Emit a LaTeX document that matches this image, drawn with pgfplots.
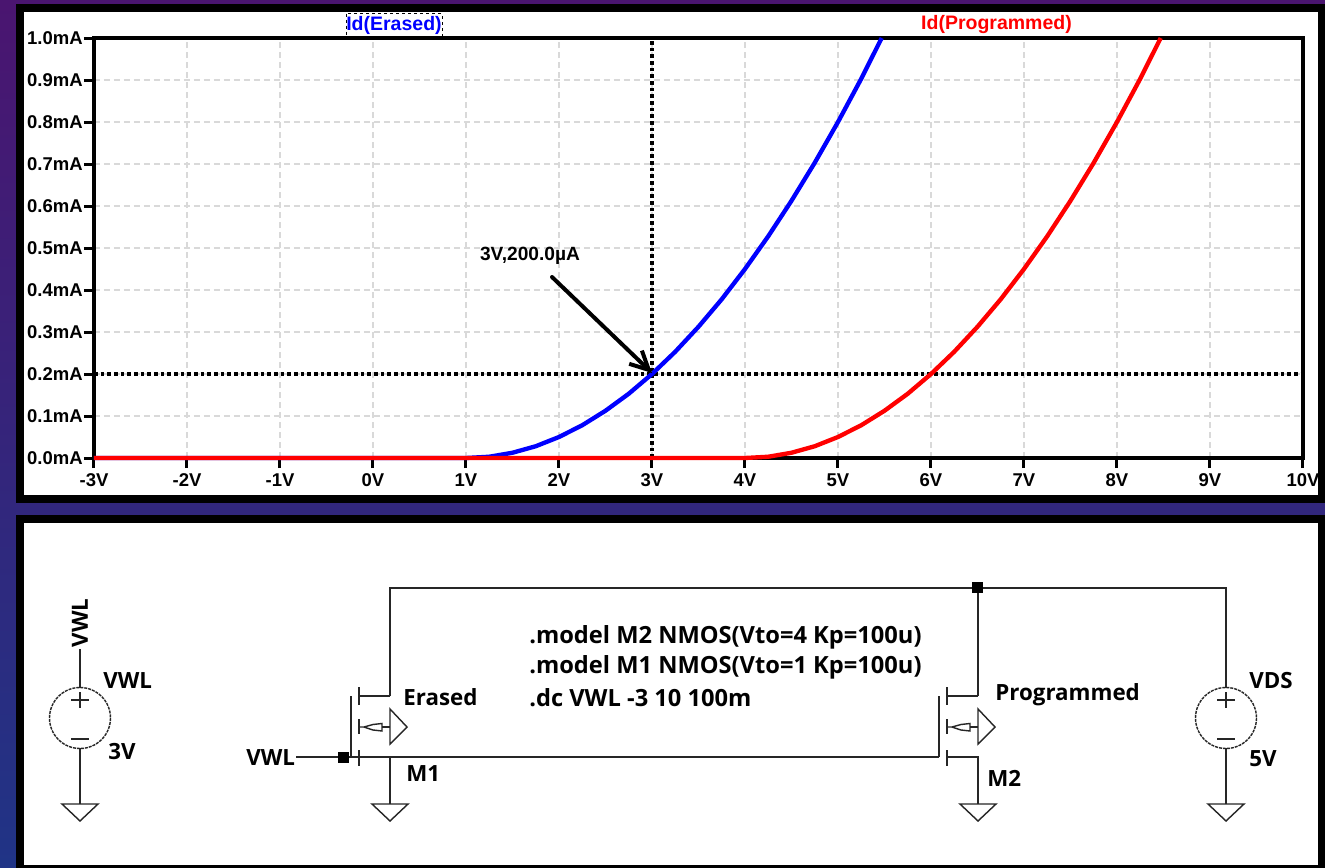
\documentclass[border=0pt]{standalone}
\usepackage{fontspec}
\setmainfont{Liberation Sans}
\newfontfamily\schem[BoldFont={Open Sans Bold}]{Open Sans}
\usepackage{pgfplots}
\pgfplotsset{compat=1.18}
\usetikzlibrary{arrows.meta}
\newcommand{\ax}[1]{\fontsize{11.1pt}{12pt}\selectfont\bfseries #1}
\newcommand{\sch}{\schem\fontsize{13.4pt}{15pt}\selectfont\bfseries}
\newcommand{\schd}{\schem\fontsize{14.2pt}{16pt}\selectfont\bfseries}
\definecolor{bgtop}{RGB}{74,21,112}
\definecolor{bgbot}{RGB}{32,52,134}
\begin{document}
\begin{tikzpicture}
\begin{scope}[x=0.6pt,y=-0.6pt]
\path[use as bounding box] (0,0) rectangle (1325,868);
\shade[top color=bgtop,bottom color=bgbot,shading angle=0] (0,0) rectangle (1325,868);
\fill[black] (16,4) rectangle (1325,503);
\fill[white] (24,12) rectangle (1318,495);
\fill[black] (16,515) rectangle (1325,868);
\fill[white] (24,523) rectangle (1318,865);
\end{scope}
\begin{axis}[
  at={(56.4pt,-274.8pt)},anchor=south west,
  scale only axis,width=725.4pt,height=252pt,
  xmin=-3,xmax=10,ymin=0,ymax=1,
  clip=false,
  xtick={-3,-2,-1,0,1,2,3,4,5,6,7,8,9,10},
  xticklabels={-3V,-2V,-1V,0V,1V,2V,3V,4V,5V,6V,7V,8V,9V,10V},
  ytick={0,0.1,0.2,0.3,0.4,0.5,0.6,0.7,0.8,0.9,1},
  yticklabels={0.0mA,0.1mA,0.2mA,0.3mA,0.4mA,0.5mA,0.6mA,0.7mA,0.8mA,0.9mA,1.0mA},
  tick pos=left,tick align=outside,
  major tick length=6pt,
  every tick/.style={black,line width=1.8pt},
  axis line style={black,line width=2.4pt},
  grid=major,
  grid style={line width=0.7pt,gray!30,dash pattern=on 3.6pt off 2.4pt},
  xticklabel style={font=\ax{},inner sep=0pt,yshift=-3pt},
  yticklabel style={font=\ax{},inner sep=0pt,xshift=-0.6pt},
]
% cursors
\addplot[black,line width=1.9pt,dash pattern=on 2.2pt off 1.8pt] coordinates {(-3,0.2) (10,0.2)};
\addplot[black,line width=1.9pt,dash pattern=on 2.2pt off 1.8pt] coordinates {(3,0) (3,1)};
% Id(Erased)
\addplot[blue,line width=2.6pt,line join=round] coordinates {
(-3,0) (1,0) (1.25,0.003) (1.5,0.0125) (1.75,0.028) (2,0.05) (2.25,0.078) (2.5,0.1125)
(2.75,0.153) (3,0.2) (3.25,0.253) (3.5,0.3125) (3.75,0.378) (4,0.45) (4.25,0.528)
(4.5,0.6125) (4.75,0.703) (5,0.8) (5.25,0.903) (5.47,1)};
% Id(Programmed)
\addplot[red,line width=2.6pt,line join=round] coordinates {
(-3,0) (4,0) (4.25,0.003) (4.5,0.0125) (4.75,0.028) (5,0.05) (5.25,0.078) (5.5,0.1125)
(5.75,0.153) (6,0.2) (6.25,0.253) (6.5,0.3125) (6.75,0.378) (7,0.45) (7.25,0.528)
(7.5,0.6125) (7.75,0.703) (8,0.8) (8.25,0.903) (8.47,1)};
\end{axis}
\begin{scope}[x=0.6pt,y=-0.6pt]
% legend
\node[anchor=center,inner sep=0pt,text=blue,font=\fontsize{11.7pt}{13pt}\selectfont\bfseries] at (394,25) {Id(Erased)};
\draw[black,line width=0.6pt,dash pattern=on 1.8pt off 1.8pt] (346,13.5) rectangle (442,37);
\node[anchor=center,inner sep=0pt,text=red,font=\fontsize{11.7pt}{13pt}\selectfont\bfseries] at (996.5,25) {Id(Programmed)};
% annotation
\node[anchor=center,inner sep=0pt,font=\fontsize{11.5pt}{13pt}\selectfont\bfseries] at (530,256) {3V,200.0µA};
\draw[black,line width=2.4pt,line cap=round,-{Straight Barb[length=11pt,width=11pt,line width=2.4pt]}] (552,277) -- (652,373);
% schematic wires
\begin{scope}[line width=0.85pt,black!85]
\draw (390,696) -- (390,588) -- (1226,588) -- (1226,688);
\draw (296,757) -- (939,757);
\draw (978,588) -- (978,696);
% M1, M2
\foreach \dx in {0,588}{
  \begin{scope}[xshift={\dx*0.6pt}]
  \draw (351,696) -- (351,757);
  \draw (359,687) -- (359,705);
  \draw (359,719) -- (359,734);
  \draw (359,750) -- (359,766);
  \draw (390,696) -- (359,696);
  \draw (359,727) -- (364,727) -- (373,724.5) -- (382,723.5) -- (382,731) -- (373,730) -- (364,727);
  \draw (382,727) -- (390,727);
  \draw (390,709) -- (407,727) -- (390,744) -- cycle;
  \draw (359,757) -- (390,757) -- (390,804);
  \draw (372,804) -- (408,804) -- (390,821) -- cycle;
  \end{scope}
}
% sources
\foreach \cx/\ttop in {80/649,1226/688}{
  \draw (\cx,\ttop) -- (\cx,688);
  \draw[dash pattern=on 1.8pt off 0.6pt] (\cx,718) circle[radius=30.5];
  \draw (\cx,692) -- (\cx,708);
  \draw (\cx-9,700) -- (\cx+9,700);
  \draw (\cx-9,739) -- (\cx+9,739);
  \draw (\cx,748) -- (\cx,804);
  \draw (\cx-18,804) -- (\cx+18,804) -- (\cx,821) -- cycle;
}
\end{scope}
\fill[black] (971.5,581.5) rectangle (982.5,592.5);
\fill[black] (337.5,751.5) rectangle (348.5,762.5);
% schematic labels
\node[rotate=90,inner sep=0pt,font=\sch] at (80,623) {VWL};
\node[inner sep=0pt,anchor=west,font=\sch] at (103,681) {VWL};
\node[inner sep=0pt,anchor=west,font=\sch] at (108,752) {3V};
\node[inner sep=0pt,anchor=west,font=\sch] at (246,758) {VWL};
\node[inner sep=0pt,anchor=west,font=\sch] at (403,697) {Erased};
\node[inner sep=0pt,anchor=west,font=\sch] at (406,774) {M1};
\node[inner sep=0pt,anchor=west,font=\sch] at (995,695) {Programmed};
\node[inner sep=0pt,anchor=west,font=\sch] at (987,778) {M2};
\node[inner sep=0pt,anchor=west,font=\sch] at (1249,681) {VDS};
\node[inner sep=0pt,anchor=west,font=\sch] at (1249,759) {5V};
\node[inner sep=0pt,anchor=west,font=\schd] at (529,637) {.model M2 NMOS(Vto=4 Kp=100u)};
\node[inner sep=0pt,anchor=west,font=\schd] at (529,667) {.model M1 NMOS(Vto=1 Kp=100u)};
\node[inner sep=0pt,anchor=west,font=\schd] at (529,698) {.dc VWL -3 10 100m};
\end{scope}
\end{tikzpicture}
\end{document}
